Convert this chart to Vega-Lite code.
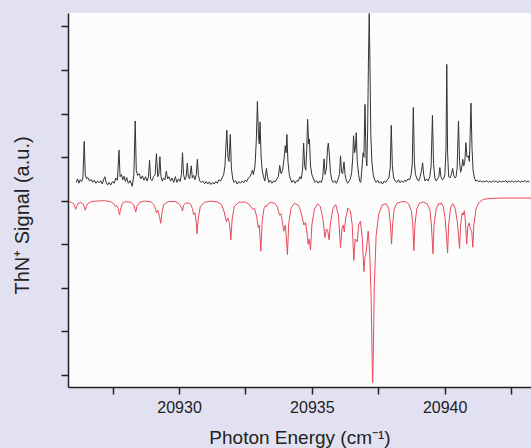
{
  "$schema": "https://vega.github.io/schema/vega-lite/v6.json",
  "width": 463,
  "height": 374,
  "autosize": {"type": "none"},
  "padding": {"left": 68, "top": 13, "right": 0, "bottom": 61},
  "background": "#e2e1f2",
  "config": {"view": {"fill": "#fcfcfd", "stroke": null}},
  "datasets": {
    "obs": [
      {"x":20926.13,"y":0.42},{"x":20926.18,"y":0.50},{"x":20926.23,"y":0.40},{"x":20926.28,"y":0.48},{"x":20926.33,"y":0.44},{"x":20926.38,"y":0.52},{"x":20926.43,"y":1.36},{"x":20926.47,"y":0.60},{"x":20926.52,"y":0.50},{"x":20926.57,"y":0.53},{"x":20926.63,"y":0.45},{"x":20926.69,"y":0.49},{"x":20926.75,"y":0.42},{"x":20926.81,"y":0.47},{"x":20926.87,"y":0.40},{"x":20926.93,"y":0.45},{"x":20926.99,"y":0.41},{"x":20927.05,"y":0.46},{"x":20927.11,"y":0.38},{"x":20927.17,"y":0.50},{"x":20927.21,"y":0.55},{"x":20927.25,"y":0.43},{"x":20927.31,"y":0.36},{"x":20927.37,"y":0.42},{"x":20927.43,"y":0.36},{"x":20927.50,"y":0.44},{"x":20927.56,"y":0.40},{"x":20927.62,"y":0.52},{"x":20927.68,"y":0.47},{"x":20927.74,"y":1.16},{"x":20927.78,"y":0.55},{"x":20927.83,"y":0.60},{"x":20927.88,"y":0.48},{"x":20927.93,"y":0.56},{"x":20927.98,"y":0.44},{"x":20928.03,"y":0.53},{"x":20928.09,"y":0.40},{"x":20928.16,"y":0.46},{"x":20928.24,"y":0.33},{"x":20928.30,"y":0.60},{"x":20928.35,"y":1.83},{"x":20928.39,"y":0.70},{"x":20928.44,"y":0.58},{"x":20928.50,"y":0.62},{"x":20928.56,"y":0.50},{"x":20928.62,"y":0.57},{"x":20928.68,"y":0.47},{"x":20928.74,"y":0.55},{"x":20928.80,"y":0.45},{"x":20928.85,"y":0.55},{"x":20928.89,"y":0.93},{"x":20928.93,"y":0.50},{"x":20928.98,"y":0.46},{"x":20929.04,"y":0.55},{"x":20929.10,"y":0.60},{"x":20929.15,"y":1.08},{"x":20929.20,"y":0.55},{"x":20929.24,"y":0.62},{"x":20929.28,"y":1.01},{"x":20929.32,"y":0.55},{"x":20929.37,"y":0.45},{"x":20929.42,"y":0.52},{"x":20929.47,"y":0.48},{"x":20929.52,"y":0.68},{"x":20929.57,"y":0.50},{"x":20929.62,"y":0.55},{"x":20929.68,"y":0.45},{"x":20929.74,"y":0.52},{"x":20929.80,"y":0.42},{"x":20929.86,"y":0.55},{"x":20929.92,"y":0.42},{"x":20929.98,"y":0.50},{"x":20930.04,"y":0.44},{"x":20930.09,"y":0.60},{"x":20930.13,"y":1.10},{"x":20930.17,"y":0.60},{"x":20930.22,"y":0.48},{"x":20930.27,"y":0.55},{"x":20930.31,"y":0.86},{"x":20930.35,"y":0.55},{"x":20930.40,"y":0.50},{"x":20930.46,"y":0.80},{"x":20930.50,"y":0.52},{"x":20930.55,"y":0.58},{"x":20930.60,"y":0.48},{"x":20930.65,"y":0.60},{"x":20930.69,"y":0.95},{"x":20930.73,"y":0.58},{"x":20930.78,"y":0.45},{"x":20930.84,"y":0.42},{"x":20930.90,"y":0.45},{"x":20930.96,"y":0.39},{"x":20931.02,"y":0.44},{"x":20931.08,"y":0.38},{"x":20931.14,"y":0.43},{"x":20931.20,"y":0.37},{"x":20931.26,"y":0.42},{"x":20931.32,"y":0.38},{"x":20931.38,"y":0.44},{"x":20931.44,"y":0.40},{"x":20931.50,"y":0.48},{"x":20931.56,"y":0.45},{"x":20931.62,"y":0.52},{"x":20931.68,"y":0.60},{"x":20931.73,"y":0.80},{"x":20931.76,"y":1.20},{"x":20931.80,"y":1.62},{"x":20931.84,"y":1.00},{"x":20931.88,"y":0.90},{"x":20931.93,"y":1.52},{"x":20931.97,"y":0.75},{"x":20932.02,"y":0.50},{"x":20932.07,"y":0.42},{"x":20932.13,"y":0.46},{"x":20932.19,"y":0.38},{"x":20932.25,"y":0.44},{"x":20932.31,"y":0.40},{"x":20932.37,"y":0.45},{"x":20932.43,"y":0.41},{"x":20932.49,"y":0.47},{"x":20932.55,"y":0.44},{"x":20932.61,"y":0.52},{"x":20932.67,"y":0.55},{"x":20932.72,"y":0.62},{"x":20932.76,"y":0.70},{"x":20932.80,"y":0.60},{"x":20932.86,"y":0.80},{"x":20932.91,"y":1.40},{"x":20932.95,"y":2.28},{"x":20932.99,"y":1.50},{"x":20933.02,"y":1.30},{"x":20933.05,"y":1.81},{"x":20933.09,"y":1.00},{"x":20933.13,"y":0.70},{"x":20933.18,"y":0.55},{"x":20933.23,"y":0.45},{"x":20933.29,"y":0.74},{"x":20933.33,"y":0.55},{"x":20933.38,"y":0.42},{"x":20933.44,"y":0.47},{"x":20933.50,"y":0.40},{"x":20933.56,"y":0.45},{"x":20933.62,"y":0.43},{"x":20933.68,"y":0.50},{"x":20933.74,"y":0.55},{"x":20933.79,"y":0.81},{"x":20933.84,"y":0.62},{"x":20933.90,"y":0.70},{"x":20933.95,"y":0.95},{"x":20934.00,"y":1.26},{"x":20934.03,"y":1.10},{"x":20934.06,"y":1.52},{"x":20934.10,"y":0.90},{"x":20934.15,"y":0.60},{"x":20934.20,"y":0.48},{"x":20934.25,"y":0.42},{"x":20934.31,"y":0.47},{"x":20934.37,"y":0.40},{"x":20934.43,"y":0.46},{"x":20934.49,"y":0.45},{"x":20934.55,"y":0.55},{"x":20934.60,"y":0.50},{"x":20934.65,"y":0.70},{"x":20934.69,"y":1.32},{"x":20934.73,"y":0.80},{"x":20934.77,"y":0.70},{"x":20934.81,"y":1.20},{"x":20934.84,"y":1.87},{"x":20934.88,"y":1.30},{"x":20934.91,"y":1.41},{"x":20934.95,"y":0.80},{"x":20935.00,"y":0.60},{"x":20935.06,"y":0.50},{"x":20935.12,"y":0.42},{"x":20935.18,"y":0.46},{"x":20935.24,"y":0.40},{"x":20935.30,"y":0.45},{"x":20935.36,"y":0.42},{"x":20935.41,"y":0.55},{"x":20935.46,"y":0.96},{"x":20935.50,"y":0.60},{"x":20935.55,"y":0.75},{"x":20935.59,"y":1.20},{"x":20935.62,"y":1.32},{"x":20935.66,"y":1.05},{"x":20935.70,"y":0.65},{"x":20935.75,"y":0.48},{"x":20935.80,"y":0.42},{"x":20935.86,"y":0.46},{"x":20935.92,"y":0.40},{"x":20935.98,"y":0.48},{"x":20936.04,"y":0.60},{"x":20936.08,"y":1.03},{"x":20936.12,"y":0.65},{"x":20936.16,"y":0.62},{"x":20936.21,"y":0.89},{"x":20936.25,"y":0.60},{"x":20936.30,"y":0.45},{"x":20936.35,"y":0.40},{"x":20936.40,"y":0.45},{"x":20936.45,"y":0.50},{"x":20936.50,"y":0.65},{"x":20936.54,"y":1.00},{"x":20936.57,"y":1.49},{"x":20936.61,"y":1.10},{"x":20936.64,"y":1.20},{"x":20936.67,"y":1.56},{"x":20936.71,"y":0.90},{"x":20936.76,"y":0.60},{"x":20936.80,"y":0.45},{"x":20936.84,"y":0.42},{"x":20936.88,"y":0.70},{"x":20936.93,"y":1.10},{"x":20936.96,"y":1.00},{"x":20937.00,"y":2.21},{"x":20937.04,"y":1.00},{"x":20937.07,"y":0.80},{"x":20937.10,"y":1.60},{"x":20937.13,"y":3.20},{"x":20937.16,"y":4.30},{"x":20937.19,"y":3.00},{"x":20937.22,"y":1.50},{"x":20937.26,"y":0.90},{"x":20937.31,"y":0.60},{"x":20937.36,"y":0.48},{"x":20937.42,"y":0.42},{"x":20937.48,"y":0.47},{"x":20937.54,"y":0.40},{"x":20937.60,"y":0.44},{"x":20937.66,"y":0.38},{"x":20937.72,"y":0.45},{"x":20937.78,"y":0.42},{"x":20937.84,"y":0.48},{"x":20937.90,"y":0.52},{"x":20937.95,"y":0.75},{"x":20937.99,"y":1.73},{"x":20938.03,"y":0.80},{"x":20938.08,"y":0.52},{"x":20938.14,"y":0.45},{"x":20938.20,"y":0.42},{"x":20938.26,"y":0.48},{"x":20938.32,"y":0.41},{"x":20938.38,"y":0.46},{"x":20938.44,"y":0.42},{"x":20938.50,"y":0.47},{"x":20938.56,"y":0.44},{"x":20938.62,"y":0.50},{"x":20938.68,"y":0.48},{"x":20938.74,"y":0.60},{"x":20938.78,"y":0.85},{"x":20938.82,"y":2.14},{"x":20938.86,"y":0.90},{"x":20938.90,"y":0.60},{"x":20938.96,"y":0.50},{"x":20939.02,"y":0.45},{"x":20939.08,"y":0.55},{"x":20939.13,"y":0.70},{"x":20939.17,"y":0.87},{"x":20939.21,"y":0.60},{"x":20939.26,"y":0.45},{"x":20939.32,"y":0.50},{"x":20939.38,"y":0.45},{"x":20939.44,"y":0.55},{"x":20939.49,"y":0.80},{"x":20939.54,"y":1.96},{"x":20939.58,"y":0.85},{"x":20939.63,"y":0.52},{"x":20939.68,"y":0.45},{"x":20939.73,"y":0.50},{"x":20939.78,"y":0.55},{"x":20939.82,"y":0.76},{"x":20939.86,"y":0.55},{"x":20939.91,"y":0.48},{"x":20939.96,"y":0.50},{"x":20940.01,"y":0.60},{"x":20940.05,"y":1.20},{"x":20940.08,"y":3.13},{"x":20940.11,"y":1.10},{"x":20940.15,"y":0.55},{"x":20940.20,"y":0.52},{"x":20940.25,"y":0.60},{"x":20940.30,"y":0.74},{"x":20940.34,"y":0.58},{"x":20940.39,"y":0.52},{"x":20940.43,"y":0.55},{"x":20940.47,"y":0.75},{"x":20940.52,"y":1.83},{"x":20940.56,"y":0.90},{"x":20940.60,"y":0.65},{"x":20940.64,"y":0.75},{"x":20940.68,"y":0.95},{"x":20940.72,"y":0.80},{"x":20940.76,"y":0.90},{"x":20940.80,"y":1.33},{"x":20940.84,"y":1.00},{"x":20940.89,"y":1.03},{"x":20940.93,"y":0.90},{"x":20940.96,"y":1.50},{"x":20940.99,"y":2.24},{"x":20941.03,"y":1.20},{"x":20941.07,"y":0.70},{"x":20941.12,"y":0.52},{"x":20941.17,"y":0.45},{"x":20941.22,"y":0.47},{"x":20941.28,"y":0.43},{"x":20941.34,"y":0.46},{"x":20941.40,"y":0.42},{"x":20941.46,"y":0.45},{"x":20941.52,"y":0.43},{"x":20941.58,"y":0.46},{"x":20941.64,"y":0.42},{"x":20941.70,"y":0.45},{"x":20941.76,"y":0.42},{"x":20941.82,"y":0.46},{"x":20941.88,"y":0.43},{"x":20941.94,"y":0.45},{"x":20942.00,"y":0.41},{"x":20942.06,"y":0.46},{"x":20942.12,"y":0.42},{"x":20942.18,"y":0.45},{"x":20942.24,"y":0.43},{"x":20942.30,"y":0.46},{"x":20942.36,"y":0.42},{"x":20942.42,"y":0.45},{"x":20942.48,"y":0.43},{"x":20942.54,"y":0.46},{"x":20942.60,"y":0.42},{"x":20942.66,"y":0.45},{"x":20942.72,"y":0.43},{"x":20942.78,"y":0.46},{"x":20942.84,"y":0.42},{"x":20942.90,"y":0.45},{"x":20942.96,"y":0.43},{"x":20943.02,"y":0.46},{"x":20943.08,"y":0.43},{"x":20943.14,"y":0.45},{"x":20943.20,"y":0.43}
    ],
    "sim": [
      {"x":20925.85,"y":-0.02},{"x":20925.95,"y":-0.04},{"x":20926.03,"y":-0.07},{"x":20926.08,"y":-0.14},{"x":20926.11,"y":-0.20},{"x":20926.14,"y":-0.14},{"x":20926.20,"y":-0.06},{"x":20926.30,"y":-0.04},{"x":20926.38,"y":-0.07},{"x":20926.44,"y":-0.15},{"x":20926.47,"y":-0.22},{"x":20926.50,"y":-0.15},{"x":20926.56,"y":-0.07},{"x":20926.70,"y":-0.02},{"x":20926.90,"y":-0.01},{"x":20927.20,"y":0.0},{"x":20927.45,"y":-0.03},{"x":20927.55,"y":-0.08},{"x":20927.61,"y":-0.14},{"x":20927.66,"y":-0.11},{"x":20927.71,"y":-0.18},{"x":20927.76,"y":-0.33},{"x":20927.80,"y":-0.19},{"x":20927.87,"y":-0.06},{"x":20928.00,"y":-0.02},{"x":20928.20,"y":-0.04},{"x":20928.30,"y":-0.10},{"x":20928.37,"y":-0.26},{"x":20928.42,"y":-0.12},{"x":20928.52,"y":-0.04},{"x":20928.70,"y":-0.01},{"x":20928.95,"y":-0.03},{"x":20929.05,"y":-0.09},{"x":20929.12,"y":-0.20},{"x":20929.15,"y":-0.28},{"x":20929.20,"y":-0.22},{"x":20929.27,"y":-0.38},{"x":20929.31,"y":-0.52},{"x":20929.35,"y":-0.31},{"x":20929.42,"y":-0.09},{"x":20929.60,"y":-0.02},{"x":20929.85,"y":-0.02},{"x":20930.00,"y":-0.07},{"x":20930.10,"y":-0.17},{"x":20930.13,"y":-0.24},{"x":20930.17,"y":-0.11},{"x":20930.25,"y":-0.05},{"x":20930.30,"y":-0.06},{"x":20930.37,"y":-0.05},{"x":20930.45,"y":-0.09},{"x":20930.52,"y":-0.22},{"x":20930.55,"y":-0.32},{"x":20930.60,"y":-0.28},{"x":20930.65,"y":-0.52},{"x":20930.68,"y":-0.76},{"x":20930.72,"y":-0.42},{"x":20930.80,"y":-0.14},{"x":20930.95,"y":-0.04},{"x":20931.20,"y":-0.01},{"x":20931.45,"y":-0.03},{"x":20931.60,"y":-0.09},{"x":20931.70,"y":-0.26},{"x":20931.78,"y":-0.48},{"x":20931.84,"y":-0.40},{"x":20931.90,"y":-0.52},{"x":20931.95,"y":-0.90},{"x":20932.00,"y":-0.42},{"x":20932.08,"y":-0.13},{"x":20932.25,"y":-0.04},{"x":20932.50,"y":-0.03},{"x":20932.65,"y":-0.09},{"x":20932.75,"y":-0.18},{"x":20932.79,"y":-0.20},{"x":20932.84,"y":-0.17},{"x":20932.92,"y":-0.36},{"x":20932.98,"y":-0.62},{"x":20933.02,"y":-0.56},{"x":20933.08,"y":-1.16},{"x":20933.13,"y":-0.47},{"x":20933.20,"y":-0.17},{"x":20933.26,"y":-0.11},{"x":20933.29,"y":-0.14},{"x":20933.34,"y":-0.08},{"x":20933.45,"y":-0.04},{"x":20933.60,"y":-0.06},{"x":20933.70,"y":-0.14},{"x":20933.76,"y":-0.28},{"x":20933.79,"y":-0.33},{"x":20933.84,"y":-0.30},{"x":20933.90,"y":-0.52},{"x":20933.94,"y":-0.70},{"x":20934.00,"y":-0.56},{"x":20934.04,"y":-0.85},{"x":20934.08,"y":-1.24},{"x":20934.13,"y":-0.52},{"x":20934.22,"y":-0.17},{"x":20934.35,"y":-0.06},{"x":20934.50,"y":-0.11},{"x":20934.60,"y":-0.28},{"x":20934.70,"y":-0.56},{"x":20934.76,"y":-0.50},{"x":20934.82,"y":-0.75},{"x":20934.86,"y":-1.00},{"x":20934.90,"y":-0.88},{"x":20934.95,"y":-1.13},{"x":20935.00,"y":-0.56},{"x":20935.10,"y":-0.19},{"x":20935.22,"y":-0.07},{"x":20935.32,"y":-0.14},{"x":20935.42,"y":-0.42},{"x":20935.49,"y":-0.85},{"x":20935.55,"y":-0.65},{"x":20935.60,"y":-0.70},{"x":20935.65,"y":-0.90},{"x":20935.70,"y":-0.51},{"x":20935.80,"y":-0.17},{"x":20935.90,"y":-0.09},{"x":20936.00,"y":-0.33},{"x":20936.08,"y":-1.08},{"x":20936.13,"y":-0.65},{"x":20936.18,"y":-0.56},{"x":20936.22,"y":-0.72},{"x":20936.27,"y":-0.42},{"x":20936.36,"y":-0.17},{"x":20936.45,"y":-0.23},{"x":20936.52,"y":-0.56},{"x":20936.58,"y":-1.37},{"x":20936.63,"y":-0.88},{"x":20936.71,"y":-0.95},{"x":20936.76,"y":-0.56},{"x":20936.83,"y":-0.47},{"x":20936.90,"y":-0.88},{"x":20936.96,"y":-1.63},{"x":20937.00,"y":-1.30},{"x":20937.04,"y":-1.20},{"x":20937.08,"y":-0.98},{"x":20937.12,"y":-0.70},{"x":20937.18,"y":-1.20},{"x":20937.23,"y":-2.20},{"x":20937.27,"y":-3.60},{"x":20937.29,"y":-4.18},{"x":20937.31,"y":-3.60},{"x":20937.35,"y":-2.00},{"x":20937.42,"y":-0.80},{"x":20937.52,"y":-0.30},{"x":20937.65,"y":-0.10},{"x":20937.80,"y":-0.07},{"x":20937.90,"y":-0.19},{"x":20937.96,"y":-0.56},{"x":20938.00,"y":-1.00},{"x":20938.04,"y":-0.56},{"x":20938.10,"y":-0.19},{"x":20938.20,"y":-0.06},{"x":20938.40,"y":-0.02},{"x":20938.55,"y":-0.03},{"x":20938.65,"y":-0.08},{"x":20938.75,"y":-0.23},{"x":20938.80,"y":-0.56},{"x":20938.84,"y":-1.15},{"x":20938.88,"y":-0.56},{"x":20938.95,"y":-0.19},{"x":20939.05,"y":-0.06},{"x":20939.20,"y":-0.03},{"x":20939.35,"y":-0.08},{"x":20939.45,"y":-0.23},{"x":20939.50,"y":-0.56},{"x":20939.56,"y":-1.22},{"x":20939.60,"y":-0.56},{"x":20939.68,"y":-0.19},{"x":20939.78,"y":-0.06},{"x":20939.82,"y":-0.09},{"x":20939.87,"y":-0.05},{"x":20939.95,"y":-0.14},{"x":20940.02,"y":-0.42},{"x":20940.06,"y":-0.75},{"x":20940.11,"y":-1.20},{"x":20940.15,"y":-0.56},{"x":20940.22,"y":-0.17},{"x":20940.30,"y":-0.07},{"x":20940.34,"y":-0.09},{"x":20940.40,"y":-0.19},{"x":20940.48,"y":-0.51},{"x":20940.56,"y":-1.10},{"x":20940.60,"y":-0.56},{"x":20940.66,"y":-0.28},{"x":20940.70,"y":-0.33},{"x":20940.74,"y":-0.23},{"x":20940.78,"y":-0.47},{"x":20940.83,"y":-1.00},{"x":20940.87,"y":-0.60},{"x":20940.92,"y":-0.51},{"x":20940.97,"y":-0.65},{"x":20941.02,"y":-0.70},{"x":20941.06,"y":-1.07},{"x":20941.10,"y":-0.56},{"x":20941.18,"y":-0.19},{"x":20941.28,"y":-0.05},{"x":20941.45,"y":0.03},{"x":20941.70,"y":0.05},{"x":20942.20,"y":0.06},{"x":20943.25,"y":0.06}
    ]
  },
  "encoding": {
    "x": {
      "field": "x", "type": "quantitative",
      "scale": {"domain": [20925.82, 20943.25], "nice": false, "zero": false},
      "axis": {
        "title": "Photon Energy (cm⁻¹)",
        "values": [20927.5, 20930, 20932.5, 20935, 20937.5, 20940, 20942.5],
        "labelExpr": "datum.value % 5 == 0 ? format(datum.value, 'd') : ''",
        "grid": false,
        "domainColor": "#222", "domainWidth": 1.5,
        "tickColor": "#222", "tickWidth": 1.5, "tickSize": 7,
        "labelFont": "Liberation Sans", "labelFontSize": 16, "labelColor": "#222",
        "labelBaseline": "alphabetic", "labelPadding": 18, "labelFlush": false, "labelOverlap": false,
        "titleFont": "Liberation Sans", "titleFontSize": 19, "titleFontWeight": "normal", "titleColor": "#222",
        "titleBaseline": "alphabetic", "titleY": 56
      }
    },
    "y": {
      "field": "y", "type": "quantitative",
      "scale": {"domain": [-4.28, 4.31], "nice": false, "zero": false},
      "axis": {
        "title": "ThN⁺ Signal (a.u.)",
        "values": [-4, -3, -2, -1, 0, 1, 2, 3, 4],
        "labels": false,
        "grid": false,
        "domainColor": "#222", "domainWidth": 1.5,
        "tickColor": "#222", "tickWidth": 1.5, "tickSize": 7,
        "titleFont": "Liberation Sans", "titleFontSize": 20, "titleFontWeight": "normal", "titleColor": "#222",
        "titleBaseline": "alphabetic", "titleAlign": "center", "titleAngle": -90,
        "titleX": -40, "titleY": 202
      }
    }
  },
  "layer": [
    {"data": {"name": "sim"}, "mark": {"type": "line", "color": "#ea4a5a", "strokeWidth": 1, "clip": true}},
    {"data": {"name": "obs"}, "mark": {"type": "line", "color": "#333333", "strokeWidth": 1, "clip": true}}
  ]
}
